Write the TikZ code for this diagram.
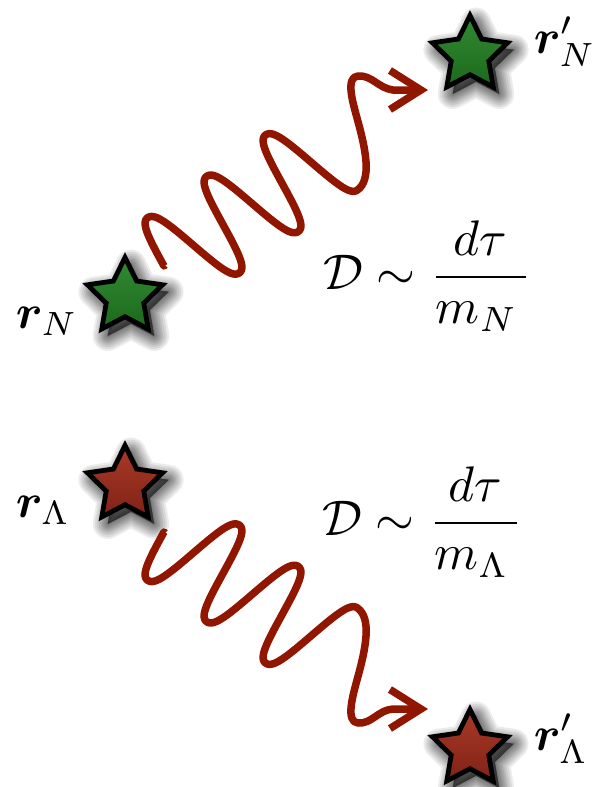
\documentclass[tikz,border=0pt]{standalone}
\usepackage{amsmath,bm}
\usetikzlibrary{shapes.geometric,arrows.meta}
\definecolor{wavered}{RGB}{145,22,0}
\definecolor{starGa}{RGB}{50,138,50}
\definecolor{starGb}{RGB}{28,105,28}
\definecolor{starRa}{RGB}{168,58,40}
\definecolor{starRb}{RGB}{128,34,22}
\tikzset{
 shl/.style={preaction={draw=black, fill=black, opacity=0.075, line width=#1, line join=round,
   transform canvas={shift={(6pt,-7pt)}}}},
 starbase/.style={star, star points=5, star point ratio=2, minimum size=79pt, inner sep=0pt,
   shl=30pt, shl=26pt, shl=22pt, shl=18pt, shl=15pt, shl=12pt, shl=9pt, shl=6pt, shl=3pt, shl=1pt,
   draw=black, line width=4.8pt, line join=miter},
 greenstar/.style={starbase, top color=starGa, bottom color=starGb},
 redstar/.style={starbase, top color=starRa, bottom color=starRb},
 wave/.style={draw=wavered, line width=7.5pt, line cap=butt, line join=round,
   -{Straight Barb[length=31pt,width=39pt]}},
 lbl/.style={inner sep=0pt, scale=4.8, anchor=base west},
 fracnode/.style={inner sep=0pt, scale=5, anchor=base west},
}
\begin{document}
\begin{tikzpicture}[x=1pt,y=-1pt]
\useasboundingbox (0,0) rectangle (599,787);
\fill[white] (0,0) rectangle (599,787);
% stars
\node[greenstar] (sN) at (125,297) {};
\node[greenstar] (sNp) at (470,55) {};
\node[redstar] (sL) at (125,485) {};
\node[redstar] (sLp) at (470,749) {};
% waves
\coordinate (wNs) at (165,265);
\coordinate (wNe) at (428,90);
\coordinate (wLs) at (165,533);
\coordinate (wLe) at (428,709);
\draw[wave] (wNs) -- plot[domain=-0.5:5, samples=240, variable=\t]
  ({178.75+29.5*\t-31*(1.07*cos(180*\t)-0.07*cos(540*\t))},{255.65-20.7*\t-38*(1.07*cos(180*\t)-0.07*cos(540*\t))})
  .. controls (372,180) and (366,150) .. (357,118)
  .. controls (353,103) and (345,77) .. (358,76)
  .. controls (372,75) and (378,88) .. (393,90) -- (wNe);
\draw[wave] (wLs) -- plot[domain=-0.5:5, samples=240, variable=\t]
  ({178.75+29.5*\t-31*(1.07*cos(180*\t)-0.07*cos(540*\t))},{542.35+20.7*\t+38*(1.07*cos(180*\t)-0.07*cos(540*\t))})
  .. controls (372,618) and (366,648) .. (357,680)
  .. controls (353,695) and (345,722) .. (358,723)
  .. controls (372,724) and (378,710) .. (393,709) -- (wLe);
% labels
\node[lbl] (lN) at (15,328) {$\bm{r}_N$};
\node[lbl] (lNp) at (533,53) {$\bm{r}'_N$};
\node[lbl] (lL) at (15,517) {$\bm{r}_\Lambda$};
\node[lbl] (lLp) at (533,750) {$\bm{r}'_\Lambda$};
\node[fracnode] (fN) at (322,289.5) {$\displaystyle\mathcal{D}\sim\frac{d\tau}{m_N\,}$};
\node[fracnode] (fL) at (321,535.5) {$\displaystyle\mathcal{D}\sim\frac{d\tau}{m_\Lambda\,}$};
\end{tikzpicture}
\end{document}
